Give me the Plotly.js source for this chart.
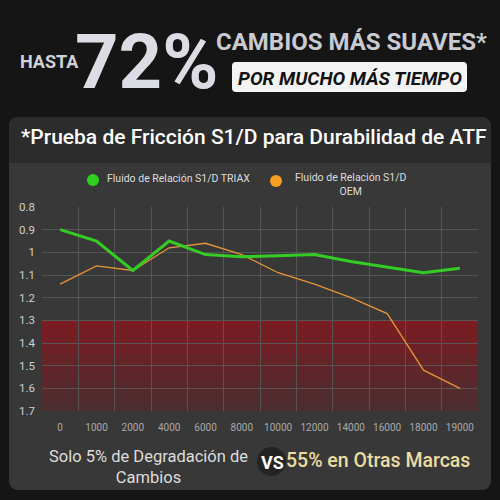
<!DOCTYPE html>
<html>
<head>
<meta charset="utf-8">
<script src="https://cdn.plot.ly/plotly-3.0.1.min.js"></script>
<style>
  html, body { margin: 0; padding: 0; background: #151515; }
  #chart { width: 500px; height: 500px; }
</style>
</head>
<body>
<div id="chart"></div>
<script>
// km categories on the x axis
const MILEAGE = ['0', '1000', '2000', '4000', '6000', '8000', '10000', '12000', '14000', '16000', '18000', '19000'];
// S1/D friction ratio
const TRIAX = [0.90, 0.95, 1.08, 0.95, 1.01, 1.02, 1.015, 1.01, 1.04, 1.065, 1.09, 1.07];
const OEM = [1.14, 1.06, 1.08, 0.98, 0.96, 1.01, 1.09, 1.14, 1.20, 1.27, 1.52, 1.60];
const SERIES_NAMES = ['Fluido de Relación S1/D TRIAX', 'Fluido de Relación S1/D<br>OEM'];
const Y_TICKS = [0.8, 0.9, 1, 1.1, 1.2, 1.3, 1.4, 1.5, 1.6, 1.7];
const Y_RANGE = [1.7, 0.8];
const DANGER_ZONE = [1.3, 1.7];

const GREEN = '#35cc25';
const ORANGE = '#e3953a';
const SANS = "Roboto, 'Noto Sans', sans-serif";

// figure pixels -> paper coords (margins are 0, so paper == whole figure)
const px = x => x / 500;
const py = y => 1 - y / 500;

function roundedRect(x0, y0, x1, y1, r, top = true, bottom = true) {
    const a = px(x0), b = px(x1), c = py(y0), d = py(y1), k = r / 500;
    let p = top ? `M${a},${c - k} Q${a},${c} ${a + k},${c} L${b - k},${c} Q${b},${c} ${b},${c - k}`
                : `M${a},${c} L${b},${c}`;
    p += bottom ? ` L${b},${d + k} Q${b},${d} ${b - k},${d} L${a + k},${d} Q${a},${d} ${a},${d + k} Z`
                : ` L${b},${d} L${a},${d} Z`;
    return p;
}

function mix(c1, c2, t) {
    const h = s => [1, 3, 5].map(i => parseInt(s.slice(i, i + 2), 16));
    const A = h(c1), B = h(c2);
    return 'rgb(' + A.map((v, i) => Math.round(v + (B[i] - v) * t)).join(',') + ')';
}

const shapes = [
    { type: 'path', xref: 'paper', yref: 'paper', path: roundedRect(9, 117, 491, 490, 10), fillcolor: '#383838', line: { width: 0 }, layer: 'below' },
    { type: 'path', xref: 'paper', yref: 'paper', path: roundedRect(9, 117, 491, 163, 10, true, false), fillcolor: '#2c2c2c', line: { width: 0 }, layer: 'below' },
    { type: 'path', xref: 'paper', yref: 'paper', path: roundedRect(232, 62, 467, 92, 4), fillcolor: '#f4f4f4', line: { width: 0 }, layer: 'below' },
    // legend dots
    { type: 'circle', xref: 'paper', yref: 'paper', x0: px(87), x1: px(99), y0: py(174), y1: py(186), fillcolor: '#2fd11f', line: { width: 0 } },
    { type: 'circle', xref: 'paper', yref: 'paper', x0: px(270), x1: px(282), y0: py(175), y1: py(187), fillcolor: '#f5a020', line: { width: 0 } },
    // VS badge
    { type: 'circle', xref: 'paper', yref: 'paper', x0: px(257), x1: px(286), y0: py(447), y1: py(476), fillcolor: '#232323', line: { width: 0 } }
];

// red danger band, faded from top to bottom
const steps = 20;
for (let i = 0; i < steps; i++) {
    const lo = DANGER_ZONE[0] + (DANGER_ZONE[1] - DANGER_ZONE[0]) * i / steps;
    const hi = DANGER_ZONE[0] + (DANGER_ZONE[1] - DANGER_ZONE[0]) * (i + 1) / steps;
    shapes.push({
        type: 'rect', xref: 'x domain', yref: 'y', x0: 0, x1: 1, y0: lo, y1: hi,
        fillcolor: mix('#7d1b21', '#4c2d30', i / (steps - 1)), line: { width: 0 }, layer: 'below'
    });
}

const annotations = [
    { text: '<b>HASTA</b>', x: px(49), y: py(61), font: { family: SANS, size: 18, color: '#cfd1d8' } },
    { text: '<b>72%</b>', x: px(146), y: py(62), font: { family: SANS, size: 76, color: '#dcdde4' } },
    { text: '<b>CAMBIOS MÁS SUAVES*</b>', x: px(214), xanchor: 'left', y: py(42), font: { family: SANS, size: 24, color: '#c9cbd2' } },
    { text: '<b><i>POR MUCHO MÁS TIEMPO</i></b>', x: px(350), y: py(78), font: { family: SANS, size: 19, color: '#111111' } },
    { text: '*Prueba de Fricción S1/D para Durabilidad de ATF', x: px(254), y: py(137), font: { family: SANS, size: 21, color: '#ffffff', weight: 500 } },
    { text: SERIES_NAMES[0], x: px(105), xanchor: 'left', y: py(178), font: { family: SANS, size: 10.5, color: '#dddddd' } },
    { text: SERIES_NAMES[1], x: px(351), y: py(184), align: 'center', font: { family: SANS, size: 10.5, color: '#dddddd' } },
    { text: 'Solo 5% de Degradación de<br>Cambios', x: px(148), y: py(467), align: 'center', font: { family: SANS, size: 16.5, color: '#dddddd' } },
    { text: '<b>VS</b>', x: px(272), y: py(462), font: { family: SANS, size: 18, color: '#ffffff' } },
    { text: '55% en Otras Marcas', x: px(284), xanchor: 'left', y: py(460), font: { family: SANS, size: 19.5, color: '#ecdca2', weight: 500 } }
].map(a => Object.assign({ xref: 'paper', yref: 'paper', showarrow: false, xanchor: 'center', yanchor: 'middle' }, a));

const traces = [
    { x: MILEAGE, y: OEM, name: 'OEM', type: 'scatter', mode: 'lines', line: { color: ORANGE, width: 1.3 } },
    { x: MILEAGE, y: TRIAX, name: 'TRIAX', type: 'scatter', mode: 'lines', line: { color: GREEN, width: 3 } }
];

Plotly.newPlot('chart', traces, {
    width: 500,
    height: 500,
    margin: { l: 0, r: 0, t: 0, b: 0 },
    paper_bgcolor: '#151515',
    plot_bgcolor: 'rgba(0,0,0,0)',
    showlegend: false,
    xaxis: {
        type: 'category',
        range: [-0.5, MILEAGE.length - 0.5],
        domain: [px(42), px(478)],
        tickson: 'boundaries',
        tickangle: 0,
        showgrid: true,
        gridcolor: '#555555',
        gridwidth: 1,
        ticks: '',
        ticklabelstandoff: 9,
        tickfont: { family: SANS, size: 10, color: '#a9a9a9' },
        zeroline: false,
        showline: false,
        fixedrange: true
    },
    yaxis: {
        range: Y_RANGE,
        domain: [py(411), py(207)],
        tickvals: Y_TICKS,
        ticktext: Y_TICKS.map(String),
        showgrid: true,
        gridcolor: '#555555',
        gridwidth: 1,
        ticks: '',
        ticklabelstandoff: 6,
        tickfont: { family: SANS, size: 11.5, color: '#cfcfcf' },
        zeroline: false,
        showline: false,
        fixedrange: true
    },
    shapes,
    annotations
}, { displayModeBar: false, staticPlot: true });
</script>
</body>
</html>
